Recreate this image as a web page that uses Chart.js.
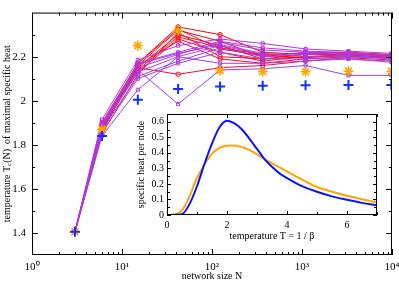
<!DOCTYPE html>
<html>
<head>
<meta charset="utf-8">
<script src="https://cdn.jsdelivr.net/npm/chart.js@4.4.1/dist/chart.umd.min.js"></script>
<style>
  html, body { margin: 0; padding: 0; background: #fff; }
  #wrap { position: relative; width: 399px; height: 282px; }
  #main { position: absolute; left: 0; top: 0; }
  #inset { position: absolute; left: 125px; top: 105px; }
</style>
</head>
<body>
<div id="wrap">
  <canvas id="main" width="399" height="282"></canvas>
  <canvas id="inset" width="265" height="140"></canvas>
</div>
<script>
// network sizes (x) and the critical temperature found for each run
const networkSizes = [3, 6, 15, 42, 123, 366, 1095, 3282, 9843];
const redRuns = [
  [1.405, 1.90, 2.17, 2.335, 2.30, 2.22, 2.21, 2.21, 2.20],
  [1.405, 1.89, 2.16, 2.32, 2.27, 2.20, 2.22, 2.215, 2.205],
  [1.405, 1.88, 2.15, 2.30, 2.25, 2.19, 2.20, 2.21, 2.20],
  [1.405, 1.87, 2.14, 2.29, 2.24, 2.21, 2.215, 2.205, 2.20],
  [1.405, 1.88, 2.13, 2.28, 2.22, 2.18, 2.20, 2.20, 2.195],
  [1.405, 1.86, 2.16, 2.27, 2.19, 2.17, 2.19, 2.20, 2.20],
  [1.405, 1.87, 2.15, 2.12, 2.15, 2.16, 2.18, 2.195, 2.185],
  [1.405, 1.85, 2.12, 2.31, 2.20, 2.19, 2.21, 2.22, 2.21],
  [1.405, 1.89, 2.17, 2.325, 2.235, 2.205, 2.195, 2.21, 2.205],
];
const purpleRuns = [
  [1.405, 1.915, 2.185, 2.25, 2.28, 2.26, 2.235, 2.225, 2.215],
  [1.405, 1.90, 2.17, 2.22, 2.27, 2.24, 2.225, 2.22, 2.205],
  [1.405, 1.89, 2.15, 2.21, 2.265, 2.23, 2.22, 2.215, 2.20],
  [1.405, 1.88, 2.13, 2.20, 2.25, 2.21, 2.215, 2.21, 2.20],
  [1.405, 1.87, 2.11, 2.18, 2.24, 2.20, 2.21, 2.205, 2.195],
  [1.405, 1.86, 2.10, 2.17, 2.22, 2.19, 2.19, 2.19, 2.175],
  [1.405, 1.84, 2.05, 2.20, 2.17, 2.17, 2.18, 2.19, 2.18],
  [1.405, 1.88, 2.14, 1.985, 2.14, 2.145, 2.16, 2.115, 2.115],
  [1.405, 1.895, 2.165, 2.215, 2.255, 2.215, 2.20, 2.20, 2.19],
];
const asteriskTc = [1.405, 1.87, 2.25, 2.317, 2.137, 2.132, 2.132, 2.134, 2.134];
const plusTc = [1.405, 1.84, 2.005, 2.053, 2.065, 2.068, 2.07, 2.072, 2.072];
const xTickLabels = [1, 10, 100, 1000, 10000];
const yTickLabels = [1.4, 1.6, 1.8, 2, 2.2];

// inset: specific heat per node against temperature
const insetT = [0, 0.25, 0.5, 0.75, 1, 1.25, 1.5, 1.75, 2, 2.25, 2.5, 2.75, 3, 3.25, 3.5, 3.75, 4, 4.5, 5, 5.5, 6, 6.5, 7];
const insetBlue = [0, 0, 0.005, 0.07, 0.185, 0.33, 0.46, 0.565, 0.607, 0.59, 0.55, 0.49, 0.425, 0.36, 0.31, 0.268, 0.238, 0.186, 0.15, 0.12, 0.098, 0.078, 0.062];
const insetOrange = [0, 0.003, 0.03, 0.12, 0.24, 0.325, 0.395, 0.432, 0.446, 0.448, 0.438, 0.418, 0.39, 0.36, 0.333, 0.306, 0.28, 0.228, 0.18, 0.15, 0.124, 0.102, 0.08];
const insetXTicks = [0, 2, 4, 6];
const insetYTicks = [0, 0.1, 0.2, 0.3, 0.4, 0.5, 0.6];

Chart.defaults.font.family = '"Liberation Serif", "Times New Roman", serif';
Chart.defaults.font.size = 11;
Chart.defaults.color = '#000';

const sup = { 0: '\u2070', 1: '\u00b9', 2: '\u00b2', 3: '\u00b3', 4: '\u2074' };

// frame round the plot area with inward ticks on all four sides
const frameTicks = {
  id: 'frameTicks',
  afterDatasetsDraw(chart, args, o) {
    const { ctx, chartArea: a, scales: { x, y } } = chart;
    ctx.save();
    ctx.strokeStyle = '#000';
    ctx.lineWidth = 1;
    ctx.strokeRect(a.left + 0.5, a.top + 0.5, a.right - a.left - 1, a.bottom - a.top - 1);
    ctx.beginPath();
    const vx = (vals, len) => vals.forEach(v => {
      const p = Math.round(x.getPixelForValue(v)) + 0.5;
      ctx.moveTo(p, a.bottom); ctx.lineTo(p, a.bottom - len);
      ctx.moveTo(p, a.top); ctx.lineTo(p, a.top + len);
    });
    const vy = (vals, len) => vals.forEach(v => {
      const p = Math.round(y.getPixelForValue(v)) + 0.5;
      ctx.moveTo(a.left, p); ctx.lineTo(a.left + len, p);
      ctx.moveTo(a.right, p); ctx.lineTo(a.right - len, p);
    });
    vx(o.xMajor, o.major); vx(o.xMinor, o.minor);
    vy(o.yMajor, o.major); vy(o.yMinor, o.minor);
    ctx.stroke();
    ctx.restore();
  }
};

// rotated y title with a subscript c
const yTitle = {
  id: 'yTitle',
  afterDraw(chart) {
    const { ctx, chartArea: a } = chart;
    const parts = [['temperature T', 10, 0], ['c', 7, 2], ['(N)  of maximal specific heat', 10, 0]];
    ctx.save();
    ctx.translate(7, (a.top + a.bottom) / 2);
    ctx.rotate(-Math.PI / 2);
    ctx.fillStyle = '#000';
    ctx.textBaseline = 'middle';
    let total = 0;
    parts.forEach(p => { ctx.font = p[1] + 'px "Liberation Serif"'; total += ctx.measureText(p[0]).width; });
    let cx = -total / 2;
    parts.forEach(p => {
      ctx.font = p[1] + 'px "Liberation Serif"';
      ctx.fillText(p[0], cx, p[2]);
      cx += ctx.measureText(p[0]).width;
    });
    ctx.restore();
  }
};

const xMinor = [];
for (let k = 0; k < 4; k++) for (let m = 2; m < 10; m++) xMinor.push(m * Math.pow(10, k));
const yMinor = [1.5, 1.7, 1.9, 2.1, 2.3];

function runColor(i, n, from, to) {
  const t = n > 1 ? i / (n - 1) : 0;
  const c = from.map((f, k) => Math.round(f + (to[k] - f) * t));
  return 'rgb(' + c.join(',') + ')';
}

function runSet(runs, style, from, to, order) {
  return runs.map((vals, i) => {
    const col = runColor(i, runs.length, from, to);
    return {
      data: networkSizes.map((n, j) => ({ x: n, y: vals[j] })),
      borderColor: col, backgroundColor: 'rgba(0,0,0,0)',
      borderWidth: 1, pointStyle: style, pointRadius: 2.2,
      pointBorderWidth: 1, pointBorderColor: col, order: order,
    };
  });
}

const datasets = [
  { data: networkSizes.map((n, j) => ({ x: n, y: plusTc[j] })), showLine: false,
    pointStyle: 'cross', pointRadius: 5, pointBorderWidth: 2, borderColor: '#1030ff', order: 0 },
  { data: networkSizes.map((n, j) => ({ x: n, y: asteriskTc[j] })), showLine: false,
    pointStyle: 'star', pointRadius: 5, pointBorderWidth: 1.6, borderColor: '#ffa500', order: 1 },
  ...runSet(purpleRuns, 'rect', [185, 50, 225], [150, 70, 235], 2),
  ...runSet(redRuns, 'circle', [255, 0, 0], [240, 15, 60], 3),
];

const noGrid = { display: false, drawTicks: false };

new Chart(document.getElementById('main'), {
  type: 'line',
  data: { datasets },
  plugins: [frameTicks, yTitle],
  options: {
    responsive: false, animation: false,
    layout: { padding: { top: 2, right: 6, left: 0, bottom: 0 } },
    plugins: {
      legend: { display: false }, tooltip: { enabled: false },
      frameTicks: { xMajor: xTickLabels, xMinor, yMajor: yTickLabels, yMinor, major: 6, minor: 3 },
    },
    scales: {
      x: {
        type: 'logarithmic', min: 1, max: 10000,
        grid: noGrid, border: { display: false },
        afterBuildTicks: s => { s.ticks = xTickLabels.map(v => ({ value: v })); },
        ticks: { callback: v => '10' + sup[Math.round(Math.log10(v))], padding: 6, maxRotation: 0, autoSkip: false },
        title: { display: true, text: 'network size N', padding: 0, font: { size: 10 } },
        afterFit: s => { s.height = 27; s.paddingLeft = 0; s.paddingRight = 0; },
      },
      y: {
        min: 1.3, max: 2.4,
        grid: noGrid, border: { display: false },
        afterBuildTicks: s => { s.ticks = yTickLabels.map(v => ({ value: v })); },
        ticks: { callback: v => v === 2 ? '2' : v.toFixed(1), padding: 6 },
        afterFit: s => { s.width = 32; },
      },
    },
  },
});

const insetXMinor = [1, 3, 5, 7];
const insetYMinor = [0.05, 0.15, 0.25, 0.35, 0.45, 0.55];

new Chart(document.getElementById('inset'), {
  type: 'line',
  data: {
    datasets: [
      { data: insetT.map((t, i) => ({ x: t, y: insetBlue[i] })), borderColor: '#0a14ff',
        borderWidth: 2, pointRadius: 0, cubicInterpolationMode: 'monotone' },
      { data: insetT.map((t, i) => ({ x: t, y: insetOrange[i] })), borderColor: '#ffa500',
        borderWidth: 2, pointRadius: 0, cubicInterpolationMode: 'monotone' },
    ],
  },
  plugins: [frameTicks],
  options: {
    responsive: false, animation: false,
    layout: { padding: { top: 8, right: 13, left: 0, bottom: 0 } },
    plugins: {
      legend: { display: false }, tooltip: { enabled: false },
      frameTicks: { xMajor: insetXTicks, xMinor: insetXMinor, yMajor: insetYTicks, yMinor: insetYMinor, major: 4, minor: 3 },
    },
    scales: {
      x: {
        type: 'linear', min: 0, max: 7,
        grid: noGrid, border: { display: false },
        afterBuildTicks: s => { s.ticks = insetXTicks.map(v => ({ value: v })); },
        ticks: { callback: v => String(v), padding: 4, maxRotation: 0, font: { size: 10 } },
        title: { display: true, text: 'temperature T = 1 / \u03b2', padding: { top: 0, bottom: 3 }, font: { size: 10 } },
        afterFit: s => { s.height = 30; s.paddingLeft = 0; s.paddingRight = 0; },
      },
      y: {
        min: 0, max: 0.65,
        grid: noGrid, border: { display: false },
        afterBuildTicks: s => { s.ticks = insetYTicks.map(v => ({ value: v })); },
        ticks: { callback: v => v === 0 ? '0' : v.toFixed(1), padding: 3, font: { size: 10 } },
        title: { display: true, text: 'specific heat per node', padding: { top: 10, bottom: 0 }, font: { size: 10 } },
        afterFit: s => { s.width = 42; },
      },
    },
  },
});
</script>
</body>
</html>
